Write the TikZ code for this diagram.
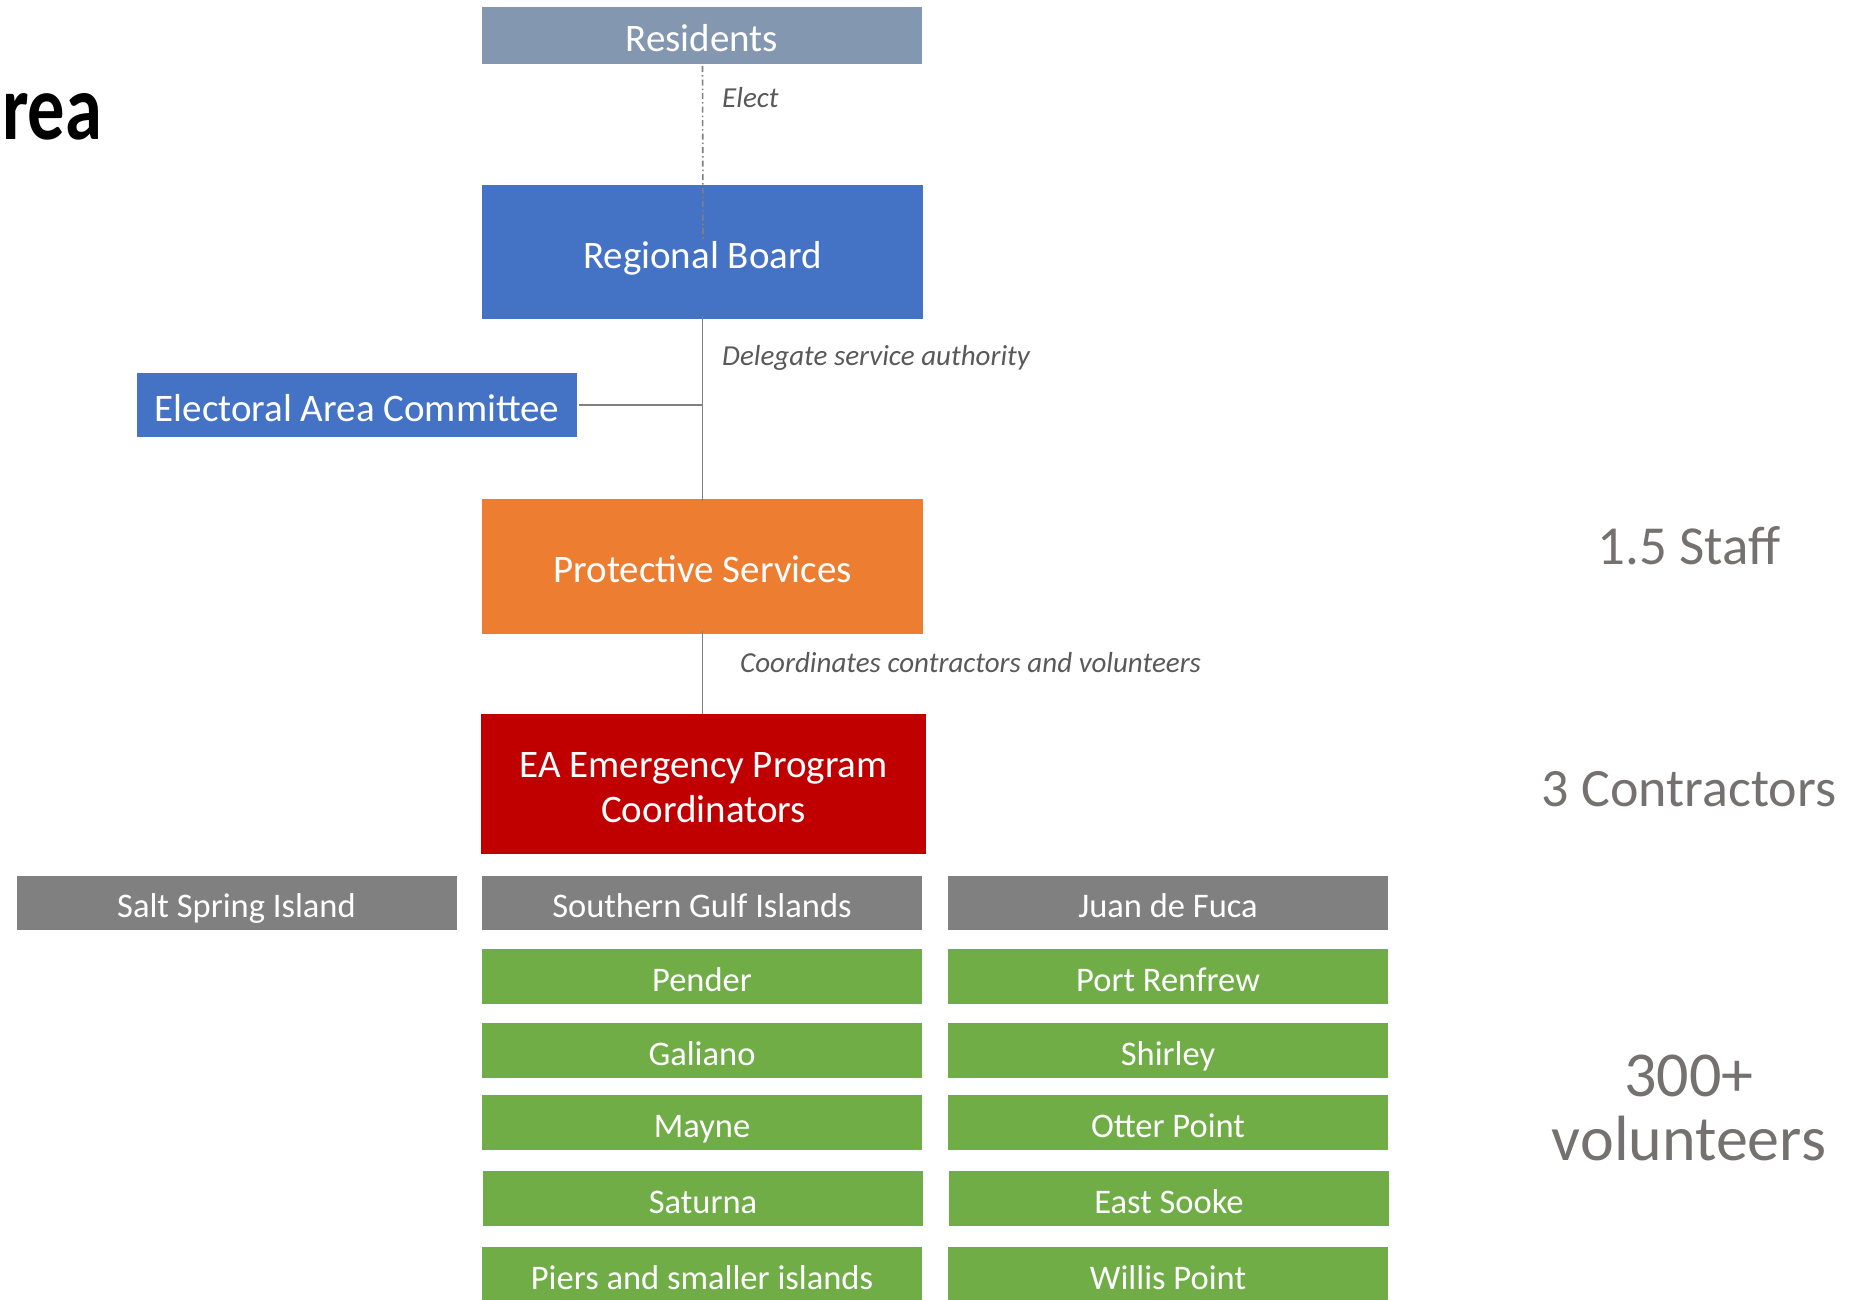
\documentclass[tikz,border=0pt]{standalone}
\usepackage{fontspec}
\setmainfont{Carlito}
\definecolor{cresid}{HTML}{8497B0}
\definecolor{cblue}{HTML}{4472C4}
\definecolor{corange}{HTML}{ED7D31}
\definecolor{cred}{HTML}{C00000}
\definecolor{cgray}{HTML}{808080}
\definecolor{cgreen}{HTML}{70AD47}
\definecolor{clabel}{HTML}{595959}
\definecolor{cside}{HTML}{767171}
\definecolor{cline}{HTML}{7F7F7F}
\begin{document}
\begin{tikzpicture}[x=1pt,y=-1pt,
  orgbox/.style={rectangle, inner sep=0pt, text=white, align=center,
    font=\fontsize{39}{45}\selectfont, minimum width=440pt,
    text height=32pt, text depth=0pt},
  rowbox/.style={orgbox, minimum height=55pt, font=\fontsize{34.5}{40}\selectfont,
    text height=29pt, text depth=0pt},
  linklabel/.style={anchor=west, inner sep=0pt, text=clabel,
    font=\fontsize{29}{34}\selectfont\itshape},
  sidetext/.style={inner sep=0pt, text=cside, align=center},
  conn/.style={draw=cline, line width=1.8pt},
  dashconn/.style={draw=cline, line width=1.6pt, dash pattern=on 6pt off 3pt on 1.5pt off 3pt}
]
\useasboundingbox (0,0) rectangle (1868,1300);

\node[anchor=base west, inner sep=0pt, font=\fontsize{97}{97}\selectfont\bfseries] (title) at (2,140) {\resizebox{100pt}{46pt}{rea}};

\node[orgbox, fill=cresid, minimum width=440pt, minimum height=57pt] (res) at (702,35.5) {Residents};
\node[orgbox, fill=cblue, minimum width=441pt, minimum height=134pt] (rb) at (702.5,252) {Regional Board};
\node[orgbox, fill=cblue, minimum width=440pt, minimum height=64pt] (eac) at (357,405) {Electoral Area Committee};
\node[orgbox, fill=corange, minimum width=441pt, minimum height=135pt] (ps) at (702.5,566.5) {Protective Services};
\node[orgbox, fill=cred, minimum width=445pt, minimum height=140pt, text height=77pt, text depth=0pt] (ea) at (703.5,784) {EA Emergency Program\\Coordinators};

\node[rowbox, fill=cgray, minimum height=54pt] (ssi) at (236.5,903) {Salt Spring Island};
\node[rowbox, fill=cgray, minimum height=54pt] (sgi) at (702,903) {Southern Gulf Islands};
\node[rowbox, fill=cgray, minimum height=54pt] (jdf) at (1168,903) {Juan de Fuca};

\node[rowbox, fill=cgreen] (pender) at (702,976.5) {Pender};
\node[rowbox, fill=cgreen] (galiano) at (702,1050.5) {Galiano};
\node[rowbox, fill=cgreen] (mayne) at (702,1122.5) {Mayne};
\node[rowbox, fill=cgreen] (saturna) at (703,1198.5) {Saturna};
\node[rowbox, fill=cgreen] (piers) at (702,1274.5) {Piers and smaller islands};

\node[rowbox, fill=cgreen] (renfrew) at (1168,976.5) {Port Renfrew};
\node[rowbox, fill=cgreen] (shirley) at (1168,1050.5) {Shirley};
\node[rowbox, fill=cgreen] (otter) at (1168,1122.5) {Otter Point};
\node[rowbox, fill=cgreen] (sooke) at (1169,1198.5) {East Sooke};
\node[rowbox, fill=cgreen] (willis) at (1168,1274.5) {Willis Point};

\node[linklabel] (lelect) at (722,98) {Elect};
\node[linklabel] (ldel) at (722,357.5) {Delegate service authority};
\node[linklabel] (lcoord) at (740,663) {Coordinates contractors and volunteers};

\node[sidetext, font=\fontsize{55}{60}\selectfont] (staff) at (1689,546) {1.5 Staff};
\node[sidetext, font=\fontsize{54}{60}\selectfont] (contr) at (1689,789) {3 Contractors};
\node[sidetext, font=\fontsize{64}{64}\selectfont] (vol) at (1689,1108) {300+\\volunteers};

\coordinate (rbin) at (703,240);
\coordinate (junc) at (703,405);

\draw[dashconn] (res.south) ++(0.5,2) -- (rbin);
\draw[conn] ([yshift=3pt]rb.south) -- ([yshift=-2pt]ps.north);
\draw[conn] ([xshift=2pt]eac.east) -- (junc);
\draw[conn] ([yshift=3pt]ps.south) -- (ea.north -| ps.south);
\end{tikzpicture}
\end{document}
